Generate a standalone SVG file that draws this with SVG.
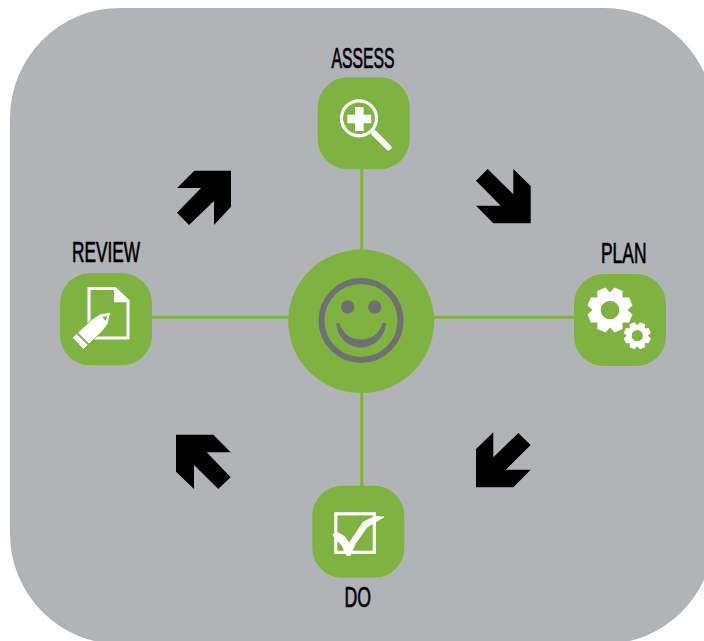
<svg xmlns="http://www.w3.org/2000/svg" width="704" height="641" viewBox="0 0 704 641">
<style>
.g{fill:#7fb341}
.w{fill:#fff}
.wl{fill:none;stroke:#fff}
.lbl{font-family:"Liberation Sans",Arial,sans-serif;font-size:29px;fill:#000;stroke:#000;stroke-width:.7px;text-anchor:start}
.arr{fill:#000}
.c{stroke:#7fb341;stroke-width:3;fill:none}
</style>
<defs>
<g id="gear">
<circle r="18" class="w"/>
<g><polygon class="w" points="-7,-15 -4.5,-22.5 4.5,-22.5 7,-15" transform="rotate(22.5)"/><polygon class="w" points="-7,-15 -4.5,-22.5 4.5,-22.5 7,-15" transform="rotate(67.5)"/><polygon class="w" points="-7,-15 -4.5,-22.5 4.5,-22.5 7,-15" transform="rotate(112.5)"/><polygon class="w" points="-7,-15 -4.5,-22.5 4.5,-22.5 7,-15" transform="rotate(157.5)"/><polygon class="w" points="-7,-15 -4.5,-22.5 4.5,-22.5 7,-15" transform="rotate(202.5)"/><polygon class="w" points="-7,-15 -4.5,-22.5 4.5,-22.5 7,-15" transform="rotate(247.5)"/><polygon class="w" points="-7,-15 -4.5,-22.5 4.5,-22.5 7,-15" transform="rotate(292.5)"/><polygon class="w" points="-7,-15 -4.5,-22.5 4.5,-22.5 7,-15" transform="rotate(337.5)"/></g>
<circle r="9.3" class="g"/>
</g>
</defs>
<rect id="background" x="10" y="8" width="704" height="636" rx="110" ry="110" fill="#b1b4b6"/>
<g id="connectors">
<line class="c" x1="361.7" y1="169" x2="361.7" y2="486"/>
<line class="c" x1="151" y1="317.3" x2="574" y2="317.3"/>
</g>
<g id="center">
<ellipse cx="361.2" cy="321.3" rx="73" ry="71.8" class="g"/>
<circle cx="361" cy="320.5" r="39.5" fill="none" stroke="#6f7074" stroke-width="6"/>
<circle cx="347.7" cy="307" r="6.7" fill="#6f7074"/>
<circle cx="374.7" cy="307" r="6.7" fill="#6f7074"/>
<path d="M336.3 323C337 338 349 347.5 361 347.5C373 347.5 385 338 386 323L382.5 323C380 333 372 339.5 361 339.5C350 339.5 342 333 339.5 323Z" fill="#6f7074"/>
</g>
<g id="assess">
<rect class="g" x="317.7" y="77.3" width="92" height="92" rx="30"/>
<circle class="wl" cx="359" cy="118.3" r="17.5" stroke-width="3.2"/>
<path class="w" d="M355 107H363.6V114.7H371.3V123.3H363.6V131H355V123.3H347.3V114.7H355Z"/>
<line class="wl" x1="374" y1="133" x2="388.5" y2="147.5" stroke-width="6" stroke-linecap="round"/>
<text class="lbl" x="331.5" y="67.7" textLength="63" lengthAdjust="spacingAndGlyphs">ASSESS</text>
</g>
<g id="plan">
<rect class="g" x="574" y="274" width="92" height="92" rx="30"/>
<use href="#gear" transform="translate(610 310)"/>
<use href="#gear" transform="translate(637.3 335.7) scale(.6)"/>
<text class="lbl" x="601" y="263.3" textLength="45.5" lengthAdjust="spacingAndGlyphs">PLAN</text>
</g>
<g id="review">
<rect class="g" x="60" y="273.3" width="92" height="92" rx="30"/>
<path class="wl" stroke-width="3" d="M89 325V288.5H115L128 301V338H93"/>
<path class="wl" stroke-width="3" d="M115.5 288.5V300.7H128"/>
<path class="w" d="M116 289L128 300.5H116Z"/>
<path class="w" stroke="#7fb341" stroke-width="1" d="M72.2 337.5L93 318.5L100 314L110.8 312L108 323.7L103.8 329.8L83.5 349.5Z"/>
<line x1="77" y1="333" x2="88.5" y2="344.5" stroke="#7fb341" stroke-width="1.8"/>
<path d="M102.5 317L107 316L105.5 321Z" fill="#7fb341"/>
<text class="lbl" x="72" y="261.7" textLength="68" lengthAdjust="spacingAndGlyphs">REVIEW</text>
</g>
<g id="do">
<rect class="g" x="312.3" y="485.7" width="92" height="92" rx="30"/>
<rect class="wl" x="335.8" y="513.8" width="38.5" height="38.5" stroke-width="3.2"/>
<path class="w" stroke="#fff" stroke-width="1" stroke-linejoin="round" d="M332.8 534.5L338.3 532.8L345 537L349 543.5L363.3 522L375 516.5L384 517L367 527L355.5 543.3L350 555.5H347L341.7 545L335 538.3Z"/>
<text class="lbl" x="344.5" y="607.3" textLength="26.5" lengthAdjust="spacingAndGlyphs">DO</text>
</g>
<g id="arrows">
<polygon class="arr" points="194.3,170.7 231,170.7 231,206.7 214,225 214,201 189,225 177,212.7 201,188 177,188"/>
<polygon class="arr" points="476,180.7 487.7,169 513.3,194.3 513.3,169 530.7,186 530.7,223.3 493.3,223.3 476,205.7 500.7,205.7"/>
<polygon class="arr" points="476,449 493.3,432.3 493.3,457.3 518.3,433 530.7,445 505.7,469.7 530.7,469.7 513.3,487.3 476,487.3"/>
<polygon class="arr" points="176,434.7 213.3,434.7 230.7,452.3 206.7,452.3 230.7,477.3 218.3,489 194,465 194,489 176,471.7"/>
</g>
</svg>
